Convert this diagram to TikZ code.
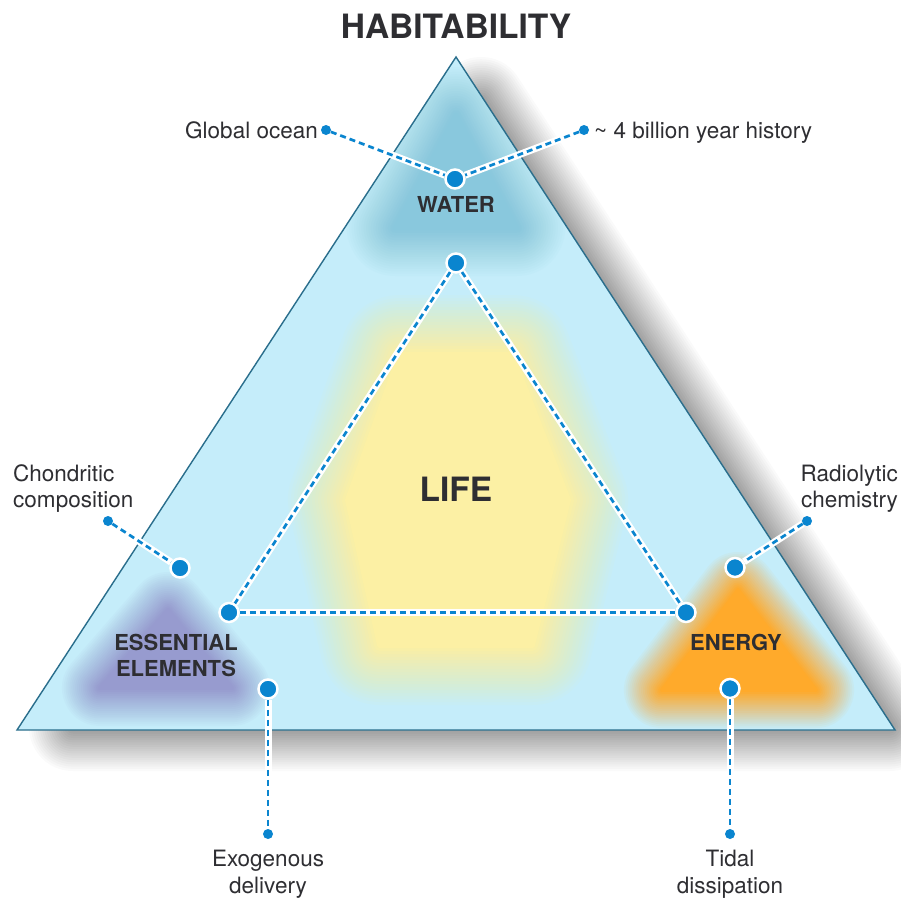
\documentclass[tikz,border=0pt]{standalone}
\usepackage{fontspec}
\setmainfont{TeX Gyre Heros}
\definecolor{trifill}{HTML}{C5EDFA}
\definecolor{triedge}{HTML}{2A6E8C}
\definecolor{waterc}{HTML}{89C8DD}
\definecolor{lifec}{HTML}{FCF0A4}
\definecolor{elemc}{HTML}{979BCF}
\definecolor{energyc}{HTML}{FFAA2B}
\definecolor{dotblue}{HTML}{0A85CF}
\definecolor{txt}{HTML}{2E2E32}
\pgfdeclarelayer{back}
\pgfdeclarelayer{mid}
\pgfsetlayers{back,mid,main}
% soft-edged shape with a linear outward ramp:
% #1 colour, #2 ramp length, #3 peak coverage, #4 polygon
\newcommand\softglow[4]{%
  \foreach \k in {0,...,19}{%
    \pgfmathsetmacro\glw{2*#2*(20-\k)/20}%
    \pgfmathsetmacro\gop{#3/(20-#3*\k)}%
    \draw[draw=#1, draw opacity=\gop, line width=\glw pt, line join=round] #4 -- cycle;
  }%
  \fill[#1, fill opacity=#3] #4 -- cycle;
}
\begin{document}
\begin{tikzpicture}[x=1pt,y=-1pt,
  bigdot/.style={circle, fill=dotblue, draw=white, line width=2.5pt, minimum size=19pt, inner sep=0pt},
  smalldot/.style={circle, fill=dotblue, minimum size=10pt, inner sep=0pt},
  conn/.style={draw=dotblue, line width=2.7pt, dash pattern=on 6pt off 4pt,
    preaction={draw=white, line width=7pt, solid}},
  lab/.style={font=\fontsize{22.5}{26.5}\selectfont, text=txt, inner sep=0pt},
  caplab/.style={font=\fontsize{22}{26.5}\selectfont\bfseries, text=txt, inner sep=0pt, align=center},
  biglab/.style={font=\fontsize{33.5}{40}\selectfont\bfseries, text=txt, inner sep=0pt},
]
\useasboundingbox (0,0) rectangle (901,900);

\begin{pgfonlayer}{back}
  \fill[white] (0,0) rectangle (901,900);
  % drop shadow
  \softglow{black}{44}{0.36}{(481,101) -- (889.5,727) -- (73,727)}
  % main triangle
  \fill[trifill] (456,57) -- (17,730) -- (895,730) -- cycle;
  \begin{scope}
    \clip (456,57) -- (17,730) -- (895,730) -- cycle;
    \softglow{waterc}{48}{1}{(456,115) -- (395,228) -- (517,228)}
    \softglow{lifec}{60}{1}{(400,355) -- (512,355) -- (568,500) -- (532,645) -- (380,645) -- (348,500)}
    \softglow{elemc}{38}{1}{(168,610) -- (100,688) -- (232,688)}
    \softglow{energyc}{38}{1}{(738,590) -- (662,690) -- (816,690)}
  \end{scope}
  \draw[triedge, line width=1.4pt] (456,57) -- (17,730) -- (895,730) -- cycle;
\end{pgfonlayer}

% dots
\node[bigdot] (wtr) at (455,179) {};
\node[bigdot] (top) at (456,263) {};
\node[bigdot] (lft) at (229,612.5) {};
\node[bigdot] (rgt) at (686,612.5) {};
\node[bigdot] (chB) at (180,568) {};
\node[smalldot] (chS) at (108,521) {};
\node[bigdot] (raB) at (735,567.5) {};
\node[smalldot] (raS) at (807,521) {};
\node[bigdot] (exB) at (268,689) {};
\node[smalldot] (exS) at (268,834) {};
\node[bigdot] (tiB) at (730,688.5) {};
\node[smalldot] (tiS) at (730,834) {};
\node[smalldot] (goS) at (326,130) {};
\node[smalldot] (biS) at (584,130) {};

% connectors
\begin{pgfonlayer}{mid}
  \draw[conn] (goS) -- (wtr);
  \draw[conn] (biS) -- (wtr);
  \draw[conn] (top) -- (lft);
  \draw[conn] (top) -- (rgt);
  \draw[conn] (lft) -- (rgt);
  \draw[conn] (chS) -- (chB);
  \draw[conn] (raS) -- (raB);
  \draw[conn] (exB) -- (exS);
  \draw[conn] (tiB) -- (tiS);
\end{pgfonlayer}

% texts
\node[biglab, anchor=base] (hab) at (456,38) {HABITABILITY};
\node[biglab, anchor=base] (life) at (456,501) {LIFE};
\node[caplab, anchor=base] (water) at (456,212) {WATER};
\node[caplab, anchor=base] (energy) at (736,650) {ENERGY};
\node[caplab, anchor=center] (elem) at (176,655.5) {ESSENTIAL\\ELEMENTS};
\node[lab, anchor=base east] (glob) at (318,138) {Global ocean};
\node[lab, anchor=base west] (hist) at (594,138) {\textasciitilde\ 4 billion year history};
\node[lab, anchor=west, align=left] (chon) at (13,488.5) {Chondritic\\composition};
\node[lab, anchor=east, align=right] (radi) at (898,488.5) {Radiolytic\\chemistry};
\node[lab, anchor=center, align=center] (exo) at (268,874) {Exogenous\\delivery};
\node[lab, anchor=center, align=center] (tid) at (730,874) {Tidal\\dissipation};
\end{tikzpicture}
\end{document}
